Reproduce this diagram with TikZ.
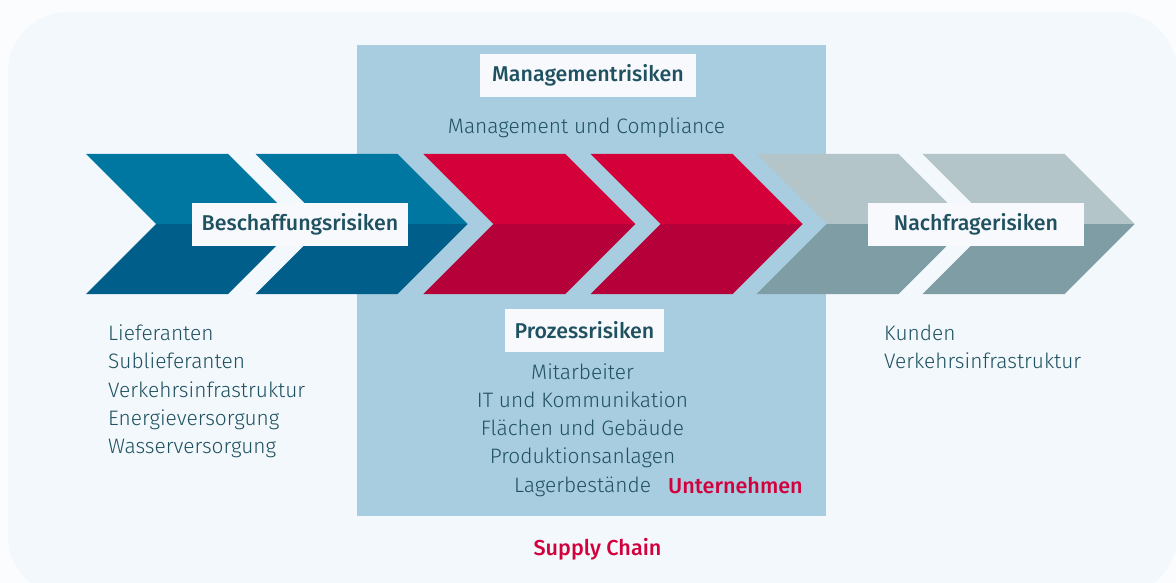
\documentclass[tikz,border=0pt]{standalone}
\usepackage{fontspec}
\setmainfont{Fira Sans Light}[BoldFont={Fira Sans Medium}]
\begin{document}
\definecolor{outerbg}{HTML}{FBFCFE}
\definecolor{panel}{HTML}{F3F8FC}
\definecolor{firmbox}{HTML}{A9CDE0}
\definecolor{blueT}{HTML}{0077A0}
\definecolor{blueB}{HTML}{005E8A}
\definecolor{redT}{HTML}{D4003A}
\definecolor{redB}{HTML}{B5003A}
\definecolor{grayT}{HTML}{B3C5C9}
\definecolor{grayB}{HTML}{7F9DA4}
\definecolor{ink}{HTML}{1F5160}
\definecolor{accent}{HTML}{D2003C}
\definecolor{tagbg}{HTML}{F7F9FD}
\begin{tikzpicture}[x=1pt,y=-1pt,
  tag/.style={fill=tagbg, text=ink, font=\fontsize{21.4}{24}\selectfont\bfseries,
    minimum width=216pt, minimum height=43pt, inner sep=0pt},
  item/.style={text=ink, font=\fontsize{20.9}{24}\selectfont, inner sep=0pt},
  redlabel/.style={text=accent, font=\fontsize{21.6}{24}\selectfont\bfseries, inner sep=0pt}]
\useasboundingbox (0,0) rectangle (1176,583);
% background and rounded panel
\fill[outerbg] (0,0) rectangle (1176,583);
\fill[panel, rounded corners=60pt] (8,12) rectangle (1177,596);
% company area
\fill[firmbox] (357,45) rectangle (826,516);
% value chain chevrons: left x, upper colour, lower colour
\foreach \lx/\ct/\cb in {86/blueT/blueB, 255.5/blueT/blueB, 423.3/redT/redB,
                         590.5/redT/redB, 756.7/grayT/grayB, 922.7/grayT/grayB}{
  \fill[\ct] (\lx,154) -- ++(142,0) -- ++(70,70) -- ++(-142,0) -- cycle;
  \fill[\cb] (\lx+70,224) -- ++(142,0) -- ++(-70,70) -- ++(-142,0) -- cycle;
}
% category tags
\node[tag] (besch) at (300,224.5) {Beschaffungsrisiken};
\node[tag] (nach) at (976,224.5) {Nachfragerisiken};
\node[tag, minimum height=42.7pt] (mgmt) at (588,75.3) {Managementrisiken};
\node[tag, minimum width=159pt, minimum height=42.7pt] (proz) at (584.5,330.3) {Prozessrisiken};
% management
\node[item, anchor=base] (mcomp) at (586.5,134) {Management und Compliance};
% supply side
\foreach \t [count=\i from 0] in {Lieferanten, Sublieferanten, Verkehrsinfrastruktur,
                                  Energieversorgung, Wasserversorgung}{
  \node[item, anchor=base west] (sup\i) at (108,340.6+28.3*\i) {\t};
}
% process side
\foreach \t [count=\i from 0] in {Mitarbeiter, IT und Kommunikation, Flächen und Gebäude,
                                  Produktionsanlagen, Lagerbestände}{
  \node[item, anchor=base] (pro\i) at (582.5,379+28.3*\i) {\t};
}
% demand side
\node[item, anchor=base west] (kund) at (884,340.6) {Kunden};
\node[item, anchor=base west] (verk) at (884,368.9) {Verkehrsinfrastruktur};
% red captions
\node[redlabel, anchor=base west] (firm) at (668,493.3) {Unternehmen};
\node[redlabel, anchor=base] (chain) at (597.5,555) {Supply Chain};
\end{tikzpicture}
\end{document}
